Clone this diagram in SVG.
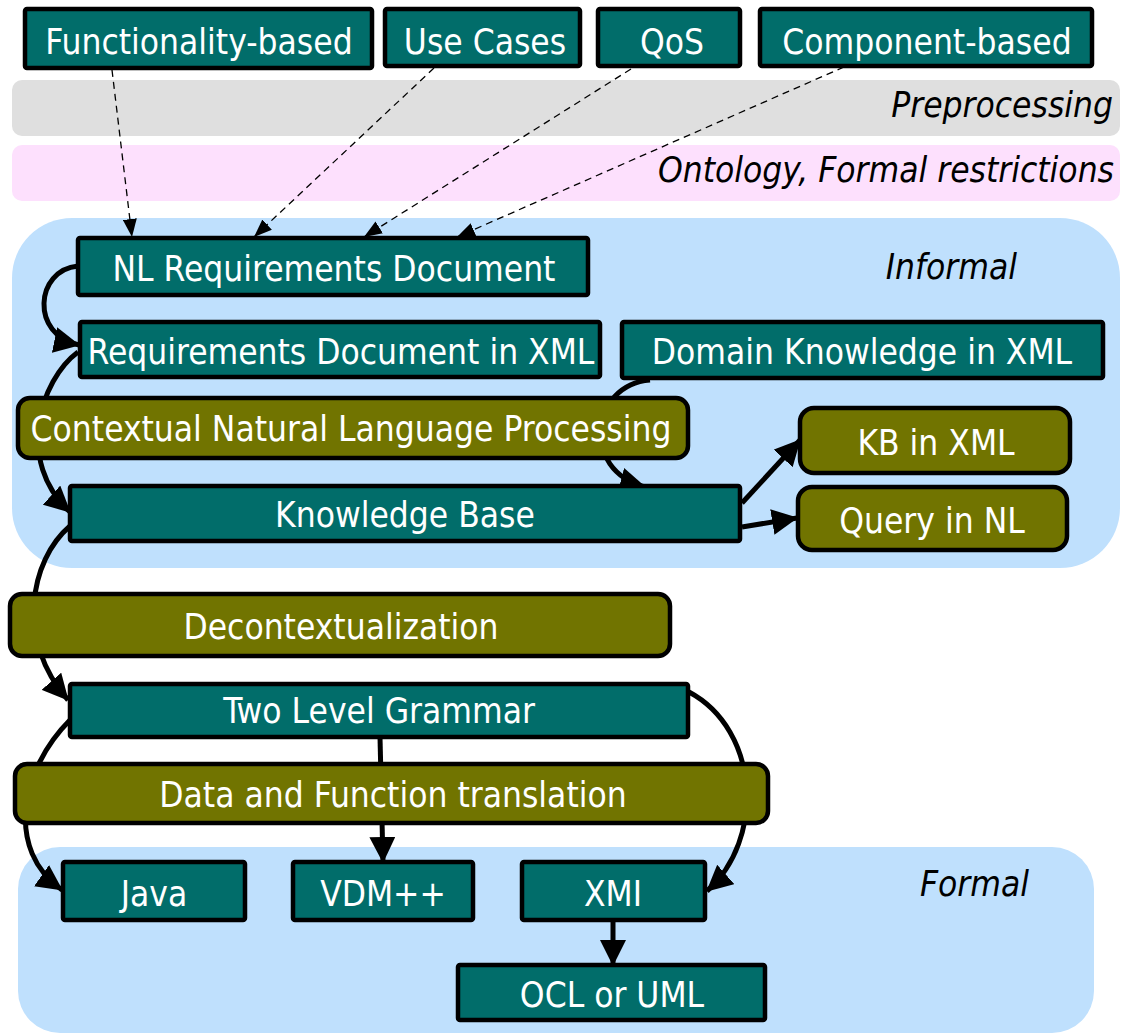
<svg xmlns="http://www.w3.org/2000/svg" width="1133" height="1034" viewBox="0 0 1133 1034">
<style>
text{font-family:"DejaVu Sans Condensed","DejaVu Sans",sans-serif;font-stretch:condensed;font-size:35px}
.n{fill:#016d6a;stroke:#000;stroke-width:4.5}
.p{fill:#717400;stroke:#000;stroke-width:4.5}
.t{fill:#fff;text-anchor:middle}
.lab{fill:#000;font-style:italic;text-anchor:end}
.c{fill:none;stroke:#000;stroke-width:5}
.d{fill:none;stroke:#000;stroke-width:1.3;stroke-dasharray:7 5}
</style>
<defs>
<marker id="ah" markerUnits="userSpaceOnUse" markerWidth="26" markerHeight="26" refX="25" refY="13" orient="auto" viewBox="0 0 26 26"><path d="M0,0 L26,13 L0,26 Z" fill="#000"/></marker>
<marker id="ahd" markerUnits="userSpaceOnUse" markerWidth="18" markerHeight="14" refX="18" refY="7" orient="auto" viewBox="0 0 18 14"><path d="M0,0 L18,7 L0,14 Z" fill="#000"/></marker>
</defs>
<g id="regions">
<rect x="12" y="80" width="1108" height="56" rx="10" fill="#dfdfdf"/>
<text class="lab" x="1113" y="117">Preprocessing</text>
<rect x="12" y="145" width="1108" height="56" rx="10" fill="#fde0fd"/>
<text class="lab" x="1114" y="182">Ontology, Formal restrictions</text>
<rect x="12" y="218" width="1108" height="350" rx="60" fill="#bfe0fd"/>
<text class="lab" x="1017" y="279">Informal</text>
<rect x="18" y="847" width="1076" height="186" rx="42" fill="#bfe0fd"/>
<text class="lab" x="1029" y="896">Formal</text>
</g>
<g id="connectors">
<path class="d" d="M112,70 L132,237" marker-end="url(#ahd)"/>
<path class="d" d="M434,68 L254,237" marker-end="url(#ahd)"/>
<path class="d" d="M631,69 L364,237" marker-end="url(#ahd)"/>
<path class="d" d="M844,67 L457,237" marker-end="url(#ahd)"/>
<path class="c" d="M78,266 C 35,270 30,335 79,345" marker-end="url(#ah)"/>
<path class="c" d="M78,352 C 40,380 15,462 70,512" marker-end="url(#ah)"/>
<path class="c" d="M70,526 C 30,560 15,640 68,700" marker-end="url(#ah)"/>
<path class="c" d="M70,720 C 20,770 5,850 62,890" marker-end="url(#ah)"/>
<path class="c" d="M380,737 L383,862" marker-end="url(#ah)"/>
<path class="c" d="M689,692 C 760,730 765,840 707,891" marker-end="url(#ah)"/>
<path class="c" d="M613,920 L613,965" marker-end="url(#ah)"/>
<path class="c" d="M650,380 C 590,385 580,470 645,487" marker-end="url(#ah)"/>
<path class="c" d="M742,503 L800,440" marker-end="url(#ah)"/>
<path class="c" d="M742,527 L797,518" marker-end="url(#ah)"/>
</g>
<g id="n-func"><rect class="n" x="25" y="9" width="347" height="59" rx="2"/><text class="t" x="199" y="54">Functionality-based</text></g>
<g id="n-use"><rect class="n" x="385" y="9" width="195" height="57" rx="2"/><text class="t" x="485" y="54">Use Cases</text></g>
<g id="n-qos"><rect class="n" x="598" y="9" width="142" height="57" rx="2"/><text class="t" x="672" y="54">QoS</text></g>
<g id="n-comp"><rect class="n" x="760" y="9" width="332" height="57" rx="2"/><text class="t" x="927" y="54">Component-based</text></g>
<g id="n-nlreq"><rect class="n" x="78" y="238" width="510" height="57" rx="2"/><text class="t" x="334" y="281">NL Requirements Document</text></g>
<g id="n-reqxml"><rect class="n" x="80" y="322" width="520" height="55" rx="2"/><text class="t" x="341" y="364">Requirements Document in XML</text></g>
<g id="n-dk"><rect class="n" x="622" y="322" width="481" height="56" rx="2"/><text class="t" x="862" y="364">Domain Knowledge in XML</text></g>
<g id="n-cnlp"><rect class="p" x="18" y="398" width="670" height="60" rx="12"/><text class="t" x="351" y="441">Contextual Natural Language Processing</text></g>
<g id="n-kbxml"><rect class="p" x="800" y="408" width="270" height="65" rx="14"/><text class="t" x="936" y="455">KB in XML</text></g>
<g id="n-kb"><rect class="n" x="70" y="486" width="670" height="55" rx="2"/><text class="t" x="405" y="527">Knowledge Base</text></g>
<g id="n-query"><rect class="p" x="798" y="487" width="269" height="63" rx="14"/><text class="t" x="932" y="533">Query in NL</text></g>
<g id="n-decon"><rect class="p" x="10" y="594" width="660" height="62" rx="12"/><text class="t" x="341" y="639">Decontextualization</text></g>
<g id="n-tlg"><rect class="n" x="70" y="684" width="618" height="53" rx="2"/><text class="t" x="379" y="723">Two Level Grammar</text></g>
<g id="n-dft"><rect class="p" x="15" y="764" width="753" height="59" rx="12"/><text class="t" x="393" y="807">Data and Function translation</text></g>
<g id="n-java"><rect class="n" x="63" y="862" width="182" height="58" rx="2"/><text class="t" x="154" y="906">Java</text></g>
<g id="n-vdm"><rect class="n" x="293" y="862" width="180" height="58" rx="2"/><text class="t" x="383" y="906">VDM++</text></g>
<g id="n-xmi"><rect class="n" x="522" y="862" width="183" height="58" rx="2"/><text class="t" x="613" y="906">XMI</text></g>
<g id="n-ocl"><rect class="n" x="458" y="965" width="307" height="55" rx="2"/><text class="t" x="612" y="1007">OCL or UML</text></g>
</svg>
